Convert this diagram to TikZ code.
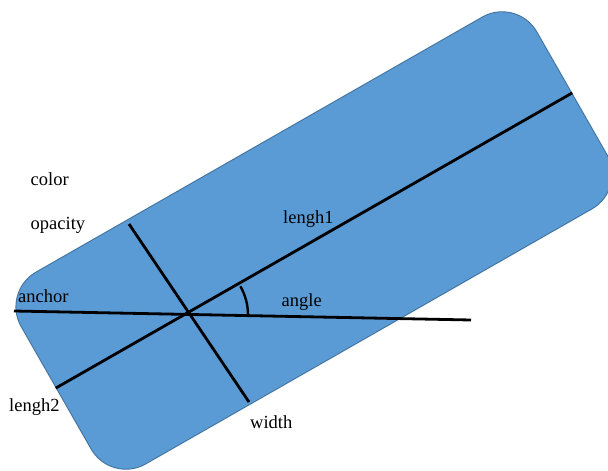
\documentclass[tikz,border=0pt]{standalone}
\usepackage{fontspec}
\setmainfont{Liberation Serif}
\definecolor{boxfill}{HTML}{5B9BD5}
\definecolor{boxline}{HTML}{41719C}
\begin{document}
\begin{tikzpicture}[x=1pt,y=1pt,
  lbl/.style={anchor=base west, inner sep=0pt, font=\fontsize{18.5}{22}\selectfont},
  axisline/.style={line width=2.8pt, black},
  anglemark/.style={line width=2.4pt, black}]
\useasboundingbox (0,0) rectangle (608,-471);
\clip (0,0) rectangle (608,-471);
\node[draw=boxline, line width=0.9pt, fill=boxfill, rotate=29.75,
      minimum width=594pt, minimum height=221pt, inner sep=0pt,
      rounded corners=40pt] (box) at (314,-240.5) {};
\coordinate (wA) at (129,-224);
\coordinate (wB) at (249,-402);
\coordinate (aA) at (14,-311);
\coordinate (aB) at (471,-320);
\coordinate (O) at (190,-315);
\draw[axisline] (box.west) -- (box.east);
\draw[axisline] (wA) -- (wB);
\draw[axisline] (aA) -- (aB);
\draw[anglemark] (O) ++(-1.13:58) arc[start angle=-1.13, end angle=29.75, radius=58];
\node[lbl] (tcolor) at (30.5,-185) {color};
\node[lbl] (topacity) at (30.5,-229) {opacity};
\node[lbl] (tlengh1) at (283,-223) {lengh1};
\node[lbl] (tanchor) at (18,-302.5) {anchor};
\node[lbl] (tangle) at (281.5,-306.5) {angle};
\node[lbl] (tlengh2) at (9,-411.5) {lengh2};
\node[lbl] (twidth) at (250,-428) {width};
\end{tikzpicture}
\end{document}
